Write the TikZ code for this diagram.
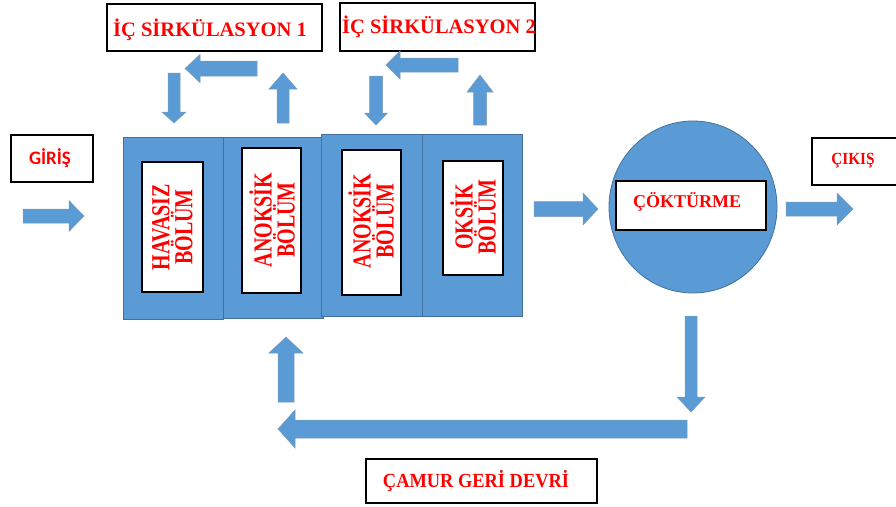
\documentclass[tikz,border=0pt]{standalone}
\usepackage{fontspec}
\setmainfont{Liberation Serif}
\newfontfamily\labelsans{Carlito}
\usepackage{graphicx}
\definecolor{tankblue}{HTML}{5B9BD5}
\definecolor{tankedge}{HTML}{41719C}
\definecolor{labelred}{HTML}{FF0000}

% block arrow: start point, angle, length, shaft half width, head half width, head length
\newcommand\blockarrow[6]{%
  \begin{scope}[shift={(#1)}, rotate=#2]
    \filldraw[flow] (0,-#4) -- ({#3-#6},-#4) -- ({#3-#6},-#5) -- (#3,0)
      -- ({#3-#6},#5) -- ({#3-#6},#4) -- (0,#4) -- cycle;
  \end{scope}}

\tikzset{
  tank/.style={fill=tankblue, draw=tankedge, line width=0.8pt},
  labelbox/.style={draw=black, line width=1.4pt, fill=white},
  flow/.style={fill=tankblue, draw=tankedge!70, line width=0.5pt},
  redlabel/.style={text=labelred, inner sep=0pt, font=\bfseries\fontsize{#1}{#1}\selectfont},
  sidelabel/.style={text=labelred, inner sep=0pt, rotate=90, align=center,
    font=\bfseries\fontsize{26}{23}\selectfont},
}
\newcommand\narrow[1]{\scalebox{0.77}[1]{#1}}

\begin{document}
\begin{tikzpicture}[x=1pt, y=-1pt]
  \useasboundingbox (0,0) rectangle (896,506);

  % reactor compartments
  \draw[tank] (123,137) rectangle (223,319);
  \draw[tank] (223,137) rectangle (323,318);
  \draw[tank] (321,134) rectangle (422,316);
  \draw[tank] (422,134) rectangle (522,316);

  % settling tank
  \draw[tank] (693,207) ellipse [x radius=84, y radius=86];

  % compartment labels
  \draw[labelbox] (142,162) rectangle (203,292);
  \node[sidelabel] (havasiz) at (172.5,227) {\narrow{HAVASIZ}\\\narrow{BÖLÜM}};
  \draw[labelbox] (242,148) rectangle (301,293);
  \node[sidelabel] (anoksik1) at (272,220) {\narrow{ANOKSİK}\\\narrow{BÖLÜM}};
  \draw[labelbox] (342,150) rectangle (401,295);
  \node[sidelabel] (anoksik2) at (371,221) {\narrow{ANOKSİK}\\\narrow{BÖLÜM}};
  \draw[labelbox] (443,161) rectangle (503,275);
  \node[sidelabel] (oksik) at (473,217) {\narrow{OKSİK}\\\narrow{BÖLÜM}};

  \draw[labelbox] (616,181) rectangle (766,230);
  \node[redlabel=18] (cokturme) at (687,202) {ÇÖKTÜRME};

  % text boxes
  \draw[labelbox] (107,4) rectangle (322,51);
  \node[redlabel=20.5] (ic1) at (210,30) {İÇ SİRKÜLASYON 1};
  \draw[labelbox] (340,3) rectangle (535,51);
  \node[redlabel=20.5] (ic2) at (439,27) {İÇ SİRKÜLASYON 2};

  \draw[labelbox] (11,135) rectangle (93,182);
  \node[text=labelred, inner sep=0pt, font=\labelsans\bfseries\fontsize{19}{19}\selectfont] (giris) at (50,158) {GİRİŞ};

  \draw[labelbox] (812,138) rectangle (900,185);
  \node[text=labelred, inner sep=0pt, font=\bfseries\fontsize{17}{17}\selectfont] (cikis) at (853,161) {\scalebox{0.9}[1]{ÇIKIŞ}};

  \draw[labelbox] (366,459) rectangle (597,503);
  \node[text=labelred, inner sep=0pt, font=\bfseries\fontsize{20}{20}\selectfont] (camur) at (476,481) {\scalebox{0.92}[1]{ÇAMUR GERİ DEVRİ}};

  % flow arrows
  \blockarrow{23,216}{0}{61}{7}{15.5}{15}
  \blockarrow{534,209}{0}{64}{7.5}{16}{15}
  \blockarrow{786,209}{0}{67}{7}{16}{16}

  % internal recirculation 1
  \blockarrow{257,68.5}{180}{72}{7.5}{14}{15}
  \blockarrow{174,73}{-90}{50}{6}{12}{11}
  \blockarrow{283,123}{90}{50}{6}{14}{16}

  % internal recirculation 2
  \blockarrow{458,65}{180}{72}{7}{14}{14}
  \blockarrow{376,76}{-90}{49}{6.5}{11.5}{12}
  \blockarrow{480,125}{90}{50}{6.5}{13}{17}

  % sludge return
  \blockarrow{691,316}{-90}{96}{6}{14}{15}
  \blockarrow{687,429}{180}{409}{9}{19}{17}
  \blockarrow{286,402}{90}{65}{8}{17}{16}
\end{tikzpicture}
\end{document}
